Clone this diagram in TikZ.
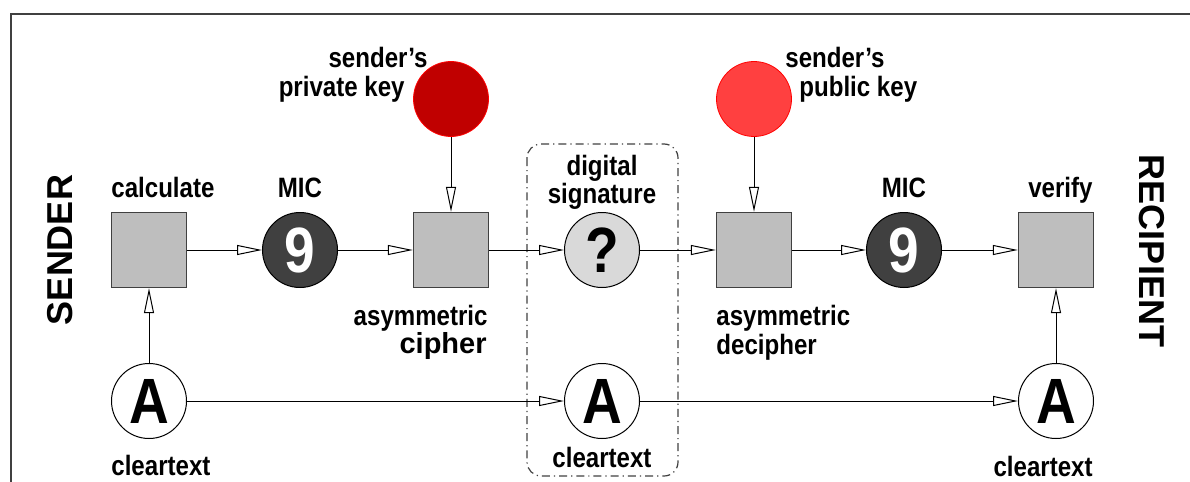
\documentclass[tikz,border=0pt]{standalone}
\usepackage{fontspec}
\usepackage{tikz}
\usepackage{xcolor}
\usetikzlibrary{arrows.meta}
\setmainfont{Liberation Sans}
\newfontfamily\narrowsf{Liberation Sans}[FakeStretch=0.86]
\definecolor{boxgray}{RGB}{190,190,190}
\definecolor{micgray}{RGB}{64,64,64}
\definecolor{siggray}{RGB}{217,217,217}
\definecolor{privred}{RGB}{192,0,0}
\definecolor{pubred}{RGB}{255,64,64}

\begin{document}
\begin{tikzpicture}[x=0.5pt, y=-0.5pt,
		every node/.style={inner sep=0pt},
		flow/.style={-{Triangle[open, fill=white, length=12.5pt, width=5pt]}, line width=0.5pt},
		stepbox/.style={draw=micgray, fill=boxgray, line width=0.7pt, minimum size=37.5pt},
		token/.style={circle, draw, line width=0.5pt, minimum size=37.5pt, font=\narrowsf\bfseries\fontsize{32}{32}\selectfont},
		keydisc/.style={circle, draw=red, line width=0.4pt, minimum size=37.5pt},
		lbl/.style={font=\narrowsf\bfseries\fontsize{14}{14}\selectfont},
		side/.style={font=\bfseries\fontsize{18}{18}\selectfont}]
	\useasboundingbox (0, 0) rectangle (1190, 482);
	% \draw [step=10, gray, very thin] (0, 0) grid (1190, 482);
	\draw [line width=0.6pt, micgray] (11, 482) -- (11, 14) -- (1190, 14);
	\draw [micgray, line width=0.6pt, dash pattern=on 4pt off 2pt on 0.6pt off 2pt, rounded corners=7pt] (527, 144) rectangle (678, 476);

	\node [side, rotate=90] (sender) at (60, 250) {SENDER};
	\node [side, rotate=-90] (recipient) at (1152, 251) {RECIPIENT};

	% sender side
	\node [stepbox] (calc) at (149, 250) {};
	\node [token, fill=micgray, text=white] (micA) at (300, 250) {9};
	\node [stepbox] (cipher) at (451, 250) {};
	\node [keydisc, fill=privred] (privkey) at (451, 99) {};
	\node [token, fill=white] (clearA) at (149, 401) {A};

	% the signature
	\node [token, fill=siggray] (sig) at (602, 250) {?};
	\node [token, fill=white] (clearB) at (602, 401) {A};

	% recipient side
	\node [stepbox] (decipher) at (754, 250) {};
	\node [keydisc, fill=pubred] (pubkey) at (754, 99) {};
	\node [token, fill=micgray, text=white] (micB) at (904, 250) {9};
	\node [stepbox] (verify) at (1056, 250) {};
	\node [token, fill=white] (clearC) at (1056, 401) {A};

	% labels
	\node [lbl, anchor=base west] (calclbl) at (111, 197) {calculate};
	\node [lbl, anchor=base] (miclblA) at (300, 197) {MIC};
	\node [lbl, anchor=base east] (privlblA) at (428, 68) {sender’s};
	\node [lbl, anchor=base east] (privlblB) at (405, 97) {private key};
	\node [lbl, anchor=base east] (cipherlblA) at (488, 325) {asymmetric};
	\node [anchor=base east, font=\bfseries\fontsize{14.5}{14.5}\selectfont] (cipherlblB) at (487, 353) {cipher};
	\node [lbl, anchor=base west] (clearlblA) at (111, 475) {cleartext};
	\node [lbl, anchor=base] (siglblA) at (602, 175) {digital};
	\node [lbl, anchor=base] (siglblB) at (602, 203) {signature};
	\node [lbl, anchor=base] (clearlblB) at (602, 467) {cleartext};
	\node [lbl, anchor=base west] (publblA) at (785, 68) {sender’s};
	\node [lbl, anchor=base west] (publblB) at (799, 97) {public key};
	\node [lbl, anchor=base west] (decipherlblA) at (716, 325) {asymmetric};
	\node [lbl, anchor=base west] (decipherlblB) at (716, 354) {decipher};
	\node [lbl, anchor=base] (miclblB) at (904, 197) {MIC};
	\node [lbl, anchor=base east] (verifylbl) at (1093, 197) {verify};
	\node [lbl, anchor=base east] (clearlblC) at (1093, 476) {cleartext};

	% connectors
	\draw [flow] (calc) -- (micA);
	\draw [flow] (micA) -- (cipher);
	\draw [flow] (cipher) -- (sig);
	\draw [flow] (sig) -- (decipher);
	\draw [flow] (decipher) -- (micB);
	\draw [flow] (micB) -- (verify);
	\draw [flow] (privkey) -- (cipher);
	\draw [flow] (pubkey) -- (decipher);
	\draw [flow] (clearA) -- (calc);
	\draw [flow] (clearA) -- (clearB);
	\draw [flow] (clearB) -- (clearC);
	\draw [flow] (clearC) -- (verify);
\end{tikzpicture}
\end{document}
